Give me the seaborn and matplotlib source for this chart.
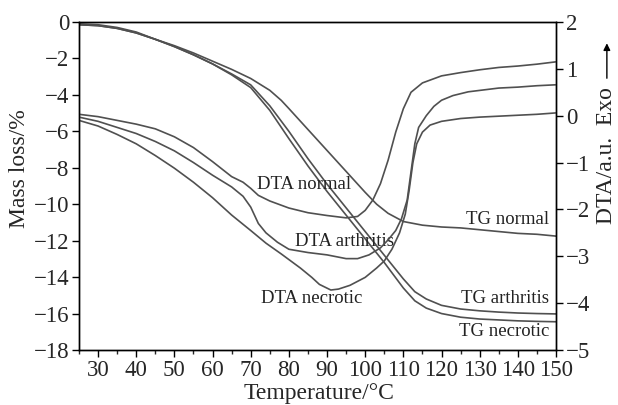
import matplotlib
matplotlib.use("Agg")
import matplotlib.pyplot as plt
from matplotlib.ticker import MultipleLocator
import seaborn as sns

# ─────────────────────────────────────────
# Data
# ─────────────────────────────────────────
# TG curves -> left axis (mass loss, %)
tg_normal_T = [25, 30, 35, 40, 45, 50, 55, 60, 65, 70, 75, 78, 80, 85, 90, 95, 100,
               103, 106, 110, 115, 120, 125, 130, 135, 140, 145, 150]
tg_normal = [-0.1, -0.15, -0.3, -0.55, -0.95, -1.3, -1.7, -2.15, -2.6, -3.1, -3.75, -4.3,
             -4.75, -5.9, -7.05, -8.2, -9.35, -10.0, -10.5, -10.95, -11.15, -11.25,
             -11.3, -11.4, -11.5, -11.6, -11.65, -11.75]

tg_arth_T = [25, 30, 35, 40, 45, 50, 55, 60, 65, 70, 75, 80, 85, 90, 95, 100, 105,
             110, 113, 116, 120, 125, 130, 135, 140, 145, 150]
tg_arthritis = [-0.15, -0.2, -0.35, -0.6, -0.95, -1.35, -1.8, -2.3, -2.85, -3.45, -4.6,
                -6.0, -7.5, -8.9, -10.2, -11.5, -12.8, -14.1, -14.8, -15.2, -15.55,
                -15.75, -15.85, -15.92, -15.97, -16.0, -16.02]

tg_necr_T = [25, 30, 35, 40, 45, 50, 55, 60, 65, 70, 75, 80, 85, 90, 95, 100, 105,
             110, 113, 116, 120, 125, 130, 135, 140, 145, 150]
tg_necrotic = [-0.15, -0.2, -0.35, -0.6, -0.95, -1.35, -1.8, -2.3, -2.9, -3.6, -4.85,
               -6.4, -7.9, -9.3, -10.6, -11.9, -13.2, -14.6, -15.3, -15.7, -16.0,
               -16.2, -16.3, -16.35, -16.4, -16.43, -16.45]

# DTA curves -> right axis (a.u.)
dta_normal_T = [25, 30, 35, 40, 45, 50, 55, 60, 65, 68, 70, 72, 75, 80, 85, 90, 95, 98,
                100, 102, 104, 106, 108, 110, 112, 115, 120, 125, 130, 135, 140, 145, 150]
dta_normal = [0.03, -0.02, -0.1, -0.18, -0.28, -0.45, -0.68, -0.98, -1.3, -1.42, -1.55,
              -1.7, -1.82, -1.97, -2.07, -2.13, -2.18, -2.15, -2.02, -1.8, -1.45, -0.95,
              -0.35, 0.15, 0.5, 0.7, 0.85, 0.92, 0.98, 1.03, 1.06, 1.1, 1.15]

dta_arth_T = [25, 30, 35, 40, 45, 50, 55, 60, 65, 68, 70, 72, 74, 77, 80, 85, 90, 95, 98,
              101, 104, 106, 108, 109.5, 111, 112, 113, 114, 116, 118, 120, 123, 127,
              131, 135, 140, 145, 150]
dta_arthritis = [-0.03, -0.12, -0.25, -0.38, -0.55, -0.75, -1.0, -1.27, -1.52, -1.72,
                 -1.95, -2.3, -2.5, -2.7, -2.85, -2.92, -2.97, -3.05, -3.05, -2.97, -2.82,
                 -2.65, -2.45, -2.2, -1.8, -1.2, -0.6, -0.25, 0.0, 0.2, 0.33, 0.43, 0.51,
                 0.55, 0.59, 0.61, 0.64, 0.66]

dta_necr_T = [25, 30, 35, 40, 45, 50, 55, 60, 65, 70, 74, 78, 83, 86, 88, 91, 93, 96, 100,
              103, 105, 107, 109, 110.5, 111.5, 112.5, 113.5, 115, 117, 120, 125, 130,
              135, 140, 145, 150]
dta_necrotic = [-0.1, -0.22, -0.4, -0.6, -0.85, -1.12, -1.42, -1.75, -2.12, -2.45, -2.72,
                -2.95, -3.25, -3.45, -3.6, -3.72, -3.7, -3.62, -3.45, -3.25, -3.1, -2.85,
                -2.5, -2.1, -1.6, -1.0, -0.6, -0.35, -0.2, -0.12, -0.06, -0.03, -0.01,
                0.01, 0.03, 0.06]

# curve labels: (text, temperature, mass-loss coordinate)
LABELS = [
    ("DTA normal", 84.0, -8.9),
    ("DTA arthritis", 94.7, -12.05),
    ("DTA necrotic", 86.1, -15.2),
    ("TG normal", 137.2, -10.85),
    ("TG arthritis", 136.6, -15.2),
    ("TG necrotic", 136.3, -17.0),
]

LINE_COLOR = "#505050"
SERIF = ["Liberation Serif", "DejaVu Serif"]

# ─────────────────────────────────────────
# Plot
# ─────────────────────────────────────────
sns.set_style("ticks")
plt.rcParams["font.family"] = SERIF
plt.rcParams["axes.unicode_minus"] = True

fig = plt.figure(figsize=(6.18, 4.05), dpi=100)
ax = fig.add_axes([0.1278, 0.1358, 0.7719, 0.8099])
ax2 = ax.twinx()

for T, vals in [(tg_normal_T, tg_normal), (tg_arth_T, tg_arthritis), (tg_necr_T, tg_necrotic)]:
    sns.lineplot(x=T, y=vals, ax=ax, color=LINE_COLOR, lw=1.2)
for T, vals in [(dta_normal_T, dta_normal), (dta_arth_T, dta_arthritis), (dta_necr_T, dta_necrotic)]:
    sns.lineplot(x=T, y=vals, ax=ax2, color=LINE_COLOR, lw=1.2)

ax.set_xlim(25, 150)
ax.set_ylim(-18, 0)
ax2.set_ylim(-5, 2)

ax.xaxis.set_major_locator(MultipleLocator(10))
ax.xaxis.set_minor_locator(MultipleLocator(5))
ax.yaxis.set_major_locator(MultipleLocator(2))
ax2.yaxis.set_major_locator(MultipleLocator(1))

for a in (ax, ax2):
    a.tick_params(axis="both", which="major", direction="out", length=5, width=1,
                  labelsize=16.5, pad=2, color="black")
    a.tick_params(axis="x", which="minor", direction="out", length=3, width=1)
    a.set_xlabel("")
    a.set_ylabel("")
    for s in a.spines.values():
        s.set_visible(True)
        s.set_linewidth(1.0)
        s.set_color("black")
ax.tick_params(top=False, right=False)
ax2.tick_params(axis="x", which="both", top=False, bottom=False)

for txt, t, y in LABELS:
    ax.text(t, y, txt, ha="center", va="center", fontsize=13.5, color="#222222")

fig.text(0.516, 0.028, "Temperature/°C", ha="center", va="center", fontsize=17)
fig.text(0.032, 0.583, "Mass loss/%", ha="center", va="center", rotation=90, fontsize=17)
fig.text(0.982, 0.617, "DTA/a.u.  Exo", ha="center", va="center", rotation=90, fontsize=17)
fig.add_artist(matplotlib.patches.FancyArrowPatch(
    (0.982, 0.80), (0.982, 0.90), transform=fig.transFigure,
    arrowstyle="-|>", mutation_scale=10, lw=1.0, color="black"))

plt.savefig("out.png", dpi=100)
plt.close()
